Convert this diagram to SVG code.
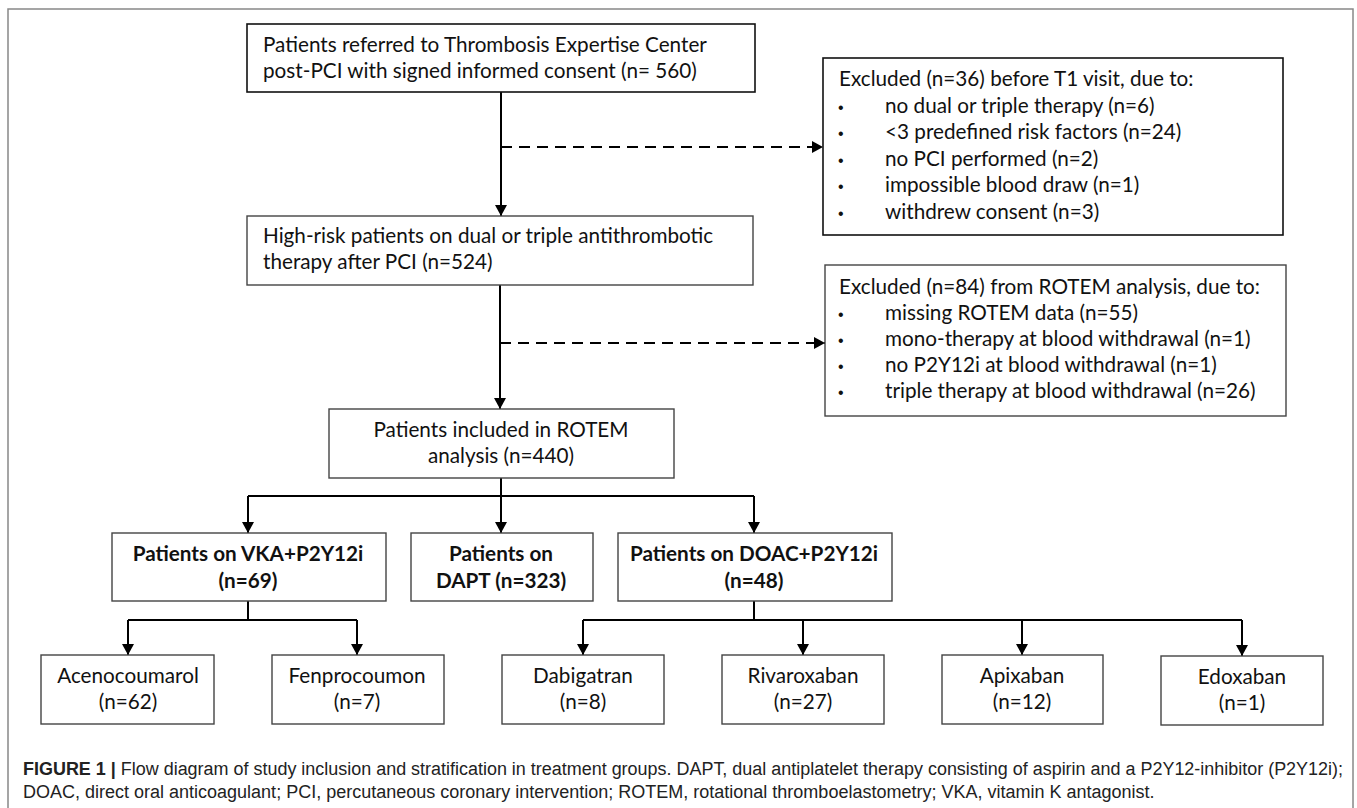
<svg xmlns="http://www.w3.org/2000/svg" width="1357" height="808" viewBox="0 0 1357 808">
<defs>
<marker id="ah" markerUnits="userSpaceOnUse" markerWidth="12" markerHeight="12" refX="11" refY="6" orient="auto">
<path d="M0,0 L11,6 L0,12 z" fill="#000"/>
</marker>
<style>
.box{fill:#fff;stroke:#111;stroke-width:1.6}
.boxg{fill:#fff;stroke:#444;stroke-width:1.4}
.t{font-family:Lato,"Liberation Sans",sans-serif;font-size:20.7px;fill:#111}
.bu{font-family:"Liberation Sans",sans-serif;font-size:16px;fill:#111}
.b{font-weight:bold}
.c{text-anchor:middle}
.ln{fill:none;stroke:#000;stroke-width:2}
.dash{fill:none;stroke:#000;stroke-width:2;stroke-dasharray:11 7}
.cap{font-family:"Liberation Sans",Arial,sans-serif;font-size:18px;fill:#222}
</style>
</defs>
<rect x="8" y="9" width="1345" height="800" fill="#fff" stroke="#888" stroke-width="1.5"/>

<g id="connectors">
<path class="ln" d="M501,92 V216" marker-end="url(#ah)"/>
<path class="dash" d="M501,147 H823" marker-end="url(#ah)"/>
<path class="ln" d="M500,285 V409" marker-end="url(#ah)"/>
<path class="dash" d="M500,343 H825" marker-end="url(#ah)"/>
<path class="ln" d="M501,478 V496 M248,496 H754"/>
<path class="ln" d="M248,496 V533" marker-end="url(#ah)"/>
<path class="ln" d="M501,496 V533" marker-end="url(#ah)"/>
<path class="ln" d="M754,496 V533" marker-end="url(#ah)"/>
<path class="ln" d="M248,601 V620 M128,620 H357"/>
<path class="ln" d="M128,620 V655" marker-end="url(#ah)"/>
<path class="ln" d="M357,620 V655" marker-end="url(#ah)"/>
<path class="ln" d="M754,601 V620 M583,620 H1242"/>
<path class="ln" d="M583,620 V655" marker-end="url(#ah)"/>
<path class="ln" d="M803,620 V655" marker-end="url(#ah)"/>
<path class="ln" d="M1022,620 V655" marker-end="url(#ah)"/>
<path class="ln" d="M1242,620 V656" marker-end="url(#ah)"/>
</g>

<g id="n-referred">
<rect class="box" x="247" y="24" width="508" height="68"/>
<text class="t" x="263" y="52">Patients referred to Thrombosis Expertise Center</text>
<text class="t" x="263" y="78">post-PCI with signed informed consent (n= 560)</text>
</g>

<g id="n-excluded1">
<rect class="box" x="823" y="58" width="460" height="177"/>
<text class="t" x="839" y="86">Excluded (n=36) before T1 visit, due to:</text>
<text class="bu" x="838" y="112.6">•</text><text class="t" x="885" y="112.6">no dual or triple therapy (n=6)</text>
<text class="bu" x="838" y="139.2">•</text><text class="t" x="885" y="139.2">&lt;3 predefined risk factors (n=24)</text>
<text class="bu" x="838" y="165.8">•</text><text class="t" x="885" y="165.8">no PCI performed (n=2)</text>
<text class="bu" x="838" y="192.4">•</text><text class="t" x="885" y="192.4">impossible blood draw (n=1)</text>
<text class="bu" x="838" y="219">•</text><text class="t" x="885" y="219">withdrew consent (n=3)</text>
</g>

<g id="n-highrisk">
<rect class="boxg" x="247" y="216" width="506" height="69"/>
<text class="t" x="263" y="243">High-risk patients on dual or triple antithrombotic</text>
<text class="t" x="263" y="269">therapy after PCI (n=524)</text>
</g>

<g id="n-excluded2">
<rect class="boxg" x="825" y="265" width="461" height="151"/>
<text class="t" x="839" y="294">Excluded (n=84) from ROTEM analysis, due to:</text>
<text class="bu" x="838" y="320">•</text><text class="t" x="885" y="320">missing ROTEM data (n=55)</text>
<text class="bu" x="838" y="346">•</text><text class="t" x="885" y="346">mono-therapy at blood withdrawal (n=1)</text>
<text class="bu" x="838" y="372">•</text><text class="t" x="885" y="372">no P2Y12i at blood withdrawal (n=1)</text>
<text class="bu" x="838" y="398">•</text><text class="t" x="885" y="398">triple therapy at blood withdrawal (n=26)</text>
</g>

<g id="n-rotem">
<rect class="boxg" x="329" y="409" width="345" height="69"/>
<text class="t c" x="501" y="437">Patients included in ROTEM</text>
<text class="t c" x="501" y="463">analysis (n=440)</text>
</g>

<g id="n-vka">
<rect class="boxg" x="112" y="533" width="274" height="68"/>
<text class="t b c" x="248" y="561">Patients on VKA+P2Y12i</text>
<text class="t b c" x="248" y="588">(n=69)</text>
</g>

<g id="n-dapt">
<rect class="boxg" x="411" y="533" width="182" height="68"/>
<text class="t b c" x="501" y="561">Patients on</text>
<text class="t b c" x="501" y="588">DAPT (n=323)</text>
</g>

<g id="n-doac">
<rect class="boxg" x="618" y="533" width="274" height="68"/>
<text class="t b c" x="754" y="561">Patients on DOAC+P2Y12i</text>
<text class="t b c" x="754" y="588">(n=48)</text>
</g>

<g id="n-aceno">
<rect class="boxg" x="41" y="655" width="173" height="69"/>
<text class="t c" x="128" y="683">Acenocoumarol</text>
<text class="t c" x="128" y="709">(n=62)</text>
</g>

<g id="n-fenpro">
<rect class="boxg" x="272" y="655" width="172" height="69"/>
<text class="t c" x="357" y="683">Fenprocoumon</text>
<text class="t c" x="357" y="709">(n=7)</text>
</g>

<g id="n-dabi">
<rect class="boxg" x="502" y="655" width="162" height="69"/>
<text class="t c" x="583" y="683">Dabigatran</text>
<text class="t c" x="583" y="709">(n=8)</text>
</g>

<g id="n-riva">
<rect class="boxg" x="722" y="655" width="162" height="69"/>
<text class="t c" x="803" y="683">Rivaroxaban</text>
<text class="t c" x="803" y="709">(n=27)</text>
</g>

<g id="n-apix">
<rect class="boxg" x="942" y="655" width="161" height="69"/>
<text class="t c" x="1022" y="683">Apixaban</text>
<text class="t c" x="1022" y="709">(n=12)</text>
</g>

<g id="n-edox">
<rect class="boxg" x="1161" y="656" width="162" height="69"/>
<text class="t c" x="1242" y="684">Edoxaban</text>
<text class="t c" x="1242" y="710">(n=1)</text>
</g>

<g id="caption">
<text class="cap" x="23" y="775" textLength="1320" lengthAdjust="spacingAndGlyphs"><tspan font-weight="bold">FIGURE 1 |</tspan> Flow diagram of study inclusion and stratification in treatment groups. DAPT, dual antiplatelet therapy consisting of aspirin and a P2Y12-inhibitor (P2Y12i);</text>
<text class="cap" x="23" y="798">DOAC, direct oral anticoagulant; PCI, percutaneous coronary intervention; ROTEM, rotational thromboelastometry; VKA, vitamin K antagonist.</text>
</g>
</svg>
